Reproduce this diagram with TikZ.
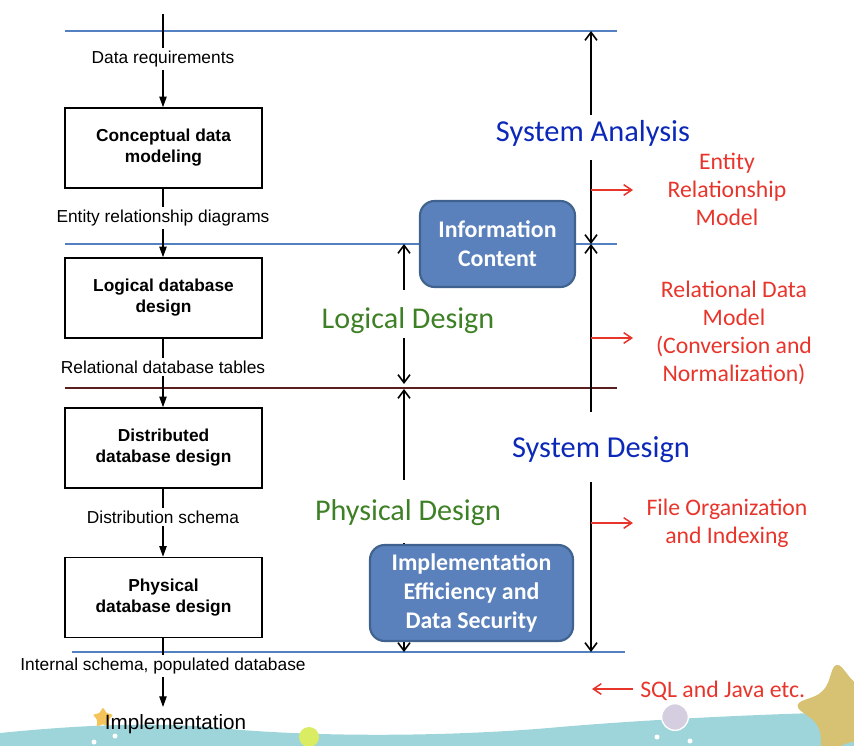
\documentclass[tikz,border=0pt]{standalone}
\usepackage{fontspec}
\setmainfont{Liberation Sans}
\newfontfamily\calfont{Carlito}
\usetikzlibrary{arrows.meta,shapes.geometric,calc}
\definecolor{hblue}{HTML}{5280C0}
\definecolor{hbrown}{HTML}{5A1E1E}
\definecolor{sysblue}{HTML}{0B28B8}
\definecolor{dgreen}{HTML}{3E8025}
\definecolor{rred}{HTML}{E8352C}
\definecolor{boxfill}{HTML}{5A81BB}
\definecolor{boxedge}{HTML}{40628F}
\definecolor{wavecol}{HTML}{9ED5DB}
\definecolor{starcol}{HTML}{D6C272}
\definecolor{smallstar}{HTML}{F4C45A}
\definecolor{bubble}{HTML}{D4CEE0}
\definecolor{lime}{HTML}{D9EC62}
\tikzset{
  flowbox/.style={draw=black, line width=1.1pt, minimum width=147.75pt, minimum height=60pt,
    align=center, font=\bfseries\fontsize{13}{15.75}\selectfont, inner sep=0pt},
  flowlab/.style={font=\fontsize{13}{15}\selectfont, inner sep=2pt, yshift=-1.5pt},
  flowarrow/.style={line width=0.9pt, -{Triangle[length=8pt,width=5.5pt]}},
  flowline/.style={line width=0.9pt},
  hline/.style={line width=1.5pt, draw=hblue},
  bline/.style={line width=1.5pt, draw=hbrown},
  barb/.style={line width=1.2pt, -{Straight Barb[length=6pt,width=9pt]}},
  redarrow/.style={line width=1.1pt, draw=rred, -{Straight Barb[length=6pt,width=8pt]}},
  systext/.style={font=\calfont\fontsize{22.8}{26}\selectfont, text=sysblue, inner sep=0pt, yshift=-2pt},
  greentext/.style={font=\calfont\fontsize{22.6}{26}\selectfont, text=dgreen, inner sep=0pt, yshift=-2pt},
  redtext/.style={font=\calfont\fontsize{17.8}{21.2}\selectfont, text=rred, align=center, inner sep=0pt, yshift=-1pt},
  bluebox/.style={draw=boxedge, line width=1.6pt, fill=boxfill, rounded corners=11pt, text=white,
    align=center, font=\calfont\bfseries\fontsize{17.9}{22}\selectfont, inner sep=0pt}
}
\begin{document}
\begin{tikzpicture}[x=0.75pt,y=-0.75pt]
\useasboundingbox (0,0) rectangle (854,746);
% background decoration
\fill[wavecol] (0,733) .. controls (60,727) and (150,720) .. (230,729)
  .. controls (320,737) and (450,737) .. (560,727)
  .. controls (640,720) and (760,714) .. (854,712) -- (854,746) -- (0,746) -- cycle;
\node[star, star points=5, star point ratio=1.9, fill=starcol, minimum size=80pt,
  rounded corners=8pt, rotate=10, inner sep=0pt] (bigstar) at (845,712) {};
\node[circle, fill=bubble, draw=white, line width=1pt, minimum size=20pt, inner sep=0pt] (bub) at (675,717) {};
\node[circle, fill=lime, minimum size=15pt, inner sep=0pt] (limec) at (309,737) {};
\node[star, star points=5, star point ratio=2, fill=smallstar, minimum size=17pt,
  rounded corners=2pt, inner sep=0pt] (sstar) at (103,718) {};
\foreach \p in {(94,742),(115,736),(657,737),(690,741)} \fill[white] \p circle (2.5);

% horizontal bands
\draw[hline] (65,31) -- (617,31);
\draw[hline] (65,244) -- (617,244);
\draw[bline] (65,388) -- (617,388);
\draw[hline] (72,652) -- (625,652);

% left flow
\coordinate (top) at (163,14);
\node[flowlab] (l0) at (163,57) {Data requirements};
\node[flowbox] (b1) at (163.5,148) {Conceptual data\\modeling};
\node[flowlab] (l1) at (163,216) {Entity relationship diagrams};
\node[flowbox] (b2) at (163.5,298) {Logical database\\design};
\node[flowlab] (l2) at (163,365) {Relational database tables};
\node[flowbox] (b3) at (163.5,448) {Distributed\\database design};
\node[flowlab] (l3) at (163,515) {Distribution schema};
\node[flowbox] (b4) at (163.5,597.5) {Physical\\database design};
\node[flowlab] (l4) at (163,664) {Internal schema, populated database};
\node[font=\fontsize{15.5}{18}\selectfont, inner sep=1pt, yshift=-1.5pt] (impl) at (175.5,722) {Implementation};
\coordinate (implin) at (163,707);

\draw[flowline] (top) -- (l0);
\draw[flowarrow] (l0) -- (l0 |- b1.north);
\draw[flowline] (b1.south -| l1) -- (l1);
\draw[flowarrow] (l1) -- (l1 |- b2.north);
\draw[flowline] (b2.south -| l2) -- (l2);
\draw[flowarrow] (l2) -- (l2 |- b3.north);
\draw[flowline] (b3.south -| l3) -- (l3);
\draw[flowarrow] (l3) -- (l3 |- b4.north);
\draw[flowline] (b4.south -| l4) -- (l4);
\draw[flowarrow] (l4) -- (implin);

% right scale: system analysis / design
\coordinate (saTop) at (591,31);
\coordinate (saMid) at (591,244);
\coordinate (sdBot) at (591,652);
\coordinate (sa1) at (591,115);
\coordinate (sa2) at (591,160);
\coordinate (sd1) at (591,412);
\coordinate (sd2) at (591,482);
\node[systext] (sa) at (593,131) {System Analysis};
\node[systext] (sd) at (601,447) {System Design};
\draw[barb] (sa1) -- (saTop);
\draw[barb] (sa2) -- (saMid);
\draw[barb] (sd1) -- (saMid);
\draw[barb] (sd2) -- (sdBot);

% logical / physical design scale
\coordinate (lg1) at (404,290);
\coordinate (lgTop) at (404,244);
\coordinate (lg2) at (404,338);
\coordinate (lgBot) at (404,384);
\coordinate (ph1) at (404,480);
\coordinate (phTop) at (404,389);
\coordinate (ph2) at (404,543);
\coordinate (phBot) at (404,652);
\node[greentext] (ld) at (408,318) {Logical Design};
\node[greentext] (pd) at (408,510) {Physical Design};
\draw[barb] (lg1) -- (lgTop);
\draw[barb] (lg2) -- (lgBot);
\draw[barb] (ph1) -- (phTop);
\draw[barb] (ph2) -- (phBot);

% blue boxes
\node[bluebox, minimum width=116.25pt, minimum height=64.5pt] (info) at (497.5,244) {Information\\Content};
\node[bluebox, minimum width=152.25pt, minimum height=72pt] (impeff) at (471.5,593) {Implementation\\Efficiency and\\Data Security};

% red annotations
\coordinate (r1s) at (591,190); \coordinate (r1e) at (633,190);
\coordinate (r2s) at (591,338); \coordinate (r2e) at (633,338);
\coordinate (r3s) at (591,523); \coordinate (r3e) at (633,523);
\coordinate (r4s) at (633,689); \coordinate (r4e) at (592,689);
\draw[redarrow] (r1s) -- (r1e);
\draw[redarrow] (r2s) -- (r2e);
\draw[redarrow] (r3s) -- (r3e);
\draw[redarrow] (r4s) -- (r4e);
\node[redtext] (erm) at (727,188) {Entity\\Relationship\\Model};
\node[redtext] (rdm) at (734,331.5) {Relational Data\\Model\\(Conversion and\\Normalization)};
\node[redtext] (foi) at (727,522) {File Organization\\and Indexing};
\node[redtext, anchor=west] (sql) at (640,689) {SQL and Java etc.};
\end{tikzpicture}
\end{document}
